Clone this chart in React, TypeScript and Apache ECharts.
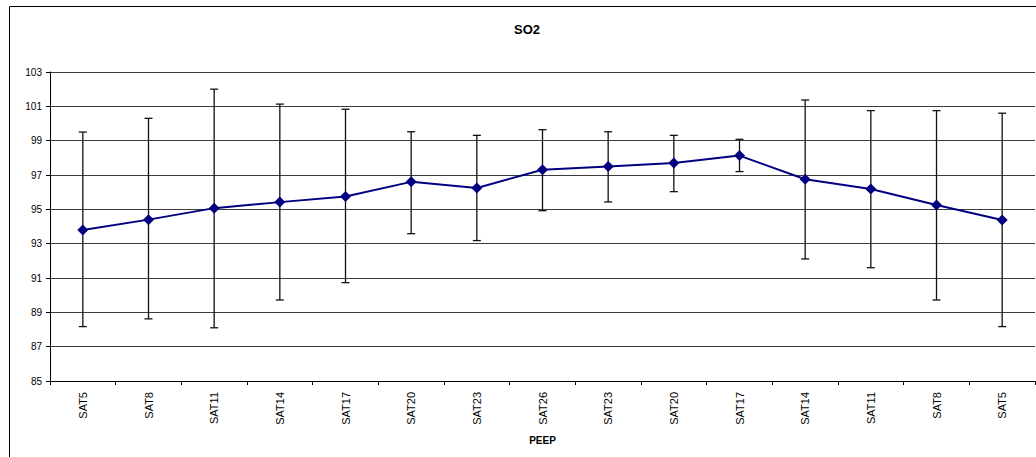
import React, { useEffect, useRef } from 'react';
import * as echarts from 'echarts';

const categories = ['SAT5', 'SAT8', 'SAT11', 'SAT14', 'SAT17', 'SAT20', 'SAT23', 'SAT26', 'SAT23', 'SAT20', 'SAT17', 'SAT14', 'SAT11', 'SAT8', 'SAT5'];
const means = [93.8, 94.4, 95.07, 95.42, 95.75, 96.6, 96.24, 97.31, 97.49, 97.7, 98.13, 96.75, 96.19, 95.25, 94.38];
const upper = [99.5, 100.3, 102.0, 101.13, 100.83, 99.52, 99.31, 99.64, 99.52, 99.31, 99.08, 101.37, 100.75, 100.75, 100.6];
const lower = [88.17, 88.62, 88.1, 89.72, 90.73, 93.58, 93.18, 94.92, 95.43, 96.03, 97.2, 92.11, 91.6, 89.72, 88.17];
const yMin = 85;
const yMax = 103;
const yTickLabels = ['85', '87', '89', '91', '93', '95', '97', '99', '101', '103'];
const titleText = 'SO2';
const xAxisTitle = 'PEEP';

export default function App() {
  const ref = useRef<HTMLDivElement>(null);
  useEffect(() => {
    const chart = echarts.init(ref.current as HTMLDivElement, null, { renderer: 'svg' });
    const errData = categories.map((_, i) => [i, lower[i], upper[i]]);
    const font = '"Liberation Sans", Arial, sans-serif';
    chart.setOption({
      animation: false,
      backgroundColor: '#ffffff',
      textStyle: { fontFamily: font },
      grid: { left: 50, right: 1, top: 72, bottom: 76, containLabel: false, outerBoundsMode: 'none' },
      graphic: [
        {
          type: 'rect',
          shape: { x: 9.5, y: 6.5, width: 1100, height: 600 },
          style: { fill: 'none', stroke: '#000', lineWidth: 1 },
          z: 0,
          silent: true,
        },
        {
          type: 'text',
          x: 527,
          y: 29,
          style: {
            text: titleText,
            fontFamily: font,
            fontSize: 13,
            fontWeight: 'bold',
            fill: '#000',
            align: 'center',
            verticalAlign: 'middle',
          },
        },
      ],
      xAxis: {
        type: 'category',
        data: categories,
        boundaryGap: true,
        axisLine: { show: true, lineStyle: { color: '#000', width: 1 } },
        axisTick: { show: true, length: 4, inside: false, lineStyle: { color: '#000' } },
        axisLabel: { rotate: 90, margin: 11, fontSize: 11, color: '#000', interval: 0, fontFamily: font },
        splitLine: { show: false },
        name: xAxisTitle,
        nameLocation: 'middle',
        nameGap: 54,
        nameTextStyle: { fontWeight: 'bold', fontSize: 10, color: '#000', fontFamily: font },
      },
      yAxis: [
        {
          type: 'value',
          min: yMin,
          max: yMax,
          interval: 1,
          axisLine: { show: true, lineStyle: { color: '#000', width: 1 } },
          axisTick: { show: false },
          axisLabel: {
            fontSize: 10,
            color: '#000',
            margin: 8,
            fontFamily: font,
            formatter: (v: number) => ((v - yMin) % 2 === 0 ? String(v) : ''),
          },
          splitLine: { show: true, lineStyle: { color: ['#3c3c3c', 'rgba(0,0,0,0)'], width: 1 } },
        },
        {
          type: 'category',
          data: yTickLabels,
          boundaryGap: false,
          position: 'left',
          axisLine: { show: false },
          axisLabel: { show: false },
          axisTick: { show: true, length: 4, lineStyle: { color: '#000' } },
          splitLine: { show: false },
        },
      ],
      series: [
        {
          type: 'custom',
          name: 'error',
          xAxisIndex: 0,
          yAxisIndex: 0,
          data: errData,
          encode: { x: 0, y: [1, 2] },
          z: 2,
          renderItem: (params: any, api: any) => {
            const x = api.value(0);
            const lo = api.value(1);
            const hi = api.value(2);
            const top = api.coord([x, hi]);
            const bot = api.coord([x, lo]);
            const hw = 4;
            const st = { stroke: '#111', lineWidth: 1.3 };
            return {
              type: 'group',
              children: [
                { type: 'line', shape: { x1: top[0], y1: top[1], x2: bot[0], y2: bot[1] }, style: st },
                { type: 'line', shape: { x1: top[0] - hw, y1: top[1], x2: top[0] + hw, y2: top[1] }, style: st },
                { type: 'line', shape: { x1: bot[0] - hw, y1: bot[1], x2: bot[0] + hw, y2: bot[1] }, style: st },
              ],
            };
          },
        },
        {
          type: 'line',
          name: titleText,
          xAxisIndex: 0,
          yAxisIndex: 0,
          data: means,
          symbol: 'diamond',
          symbolSize: 11,
          lineStyle: { color: '#000080', width: 2 },
          itemStyle: { color: '#000080' },
          z: 3,
        },
      ],
    });
    return () => chart.dispose();
  }, []);
  return (
    <div
      ref={ref}
      style={{ position: 'absolute', left: 0, top: 0, width: 1036, height: 457, background: '#fff' }}
    />
  );
}
